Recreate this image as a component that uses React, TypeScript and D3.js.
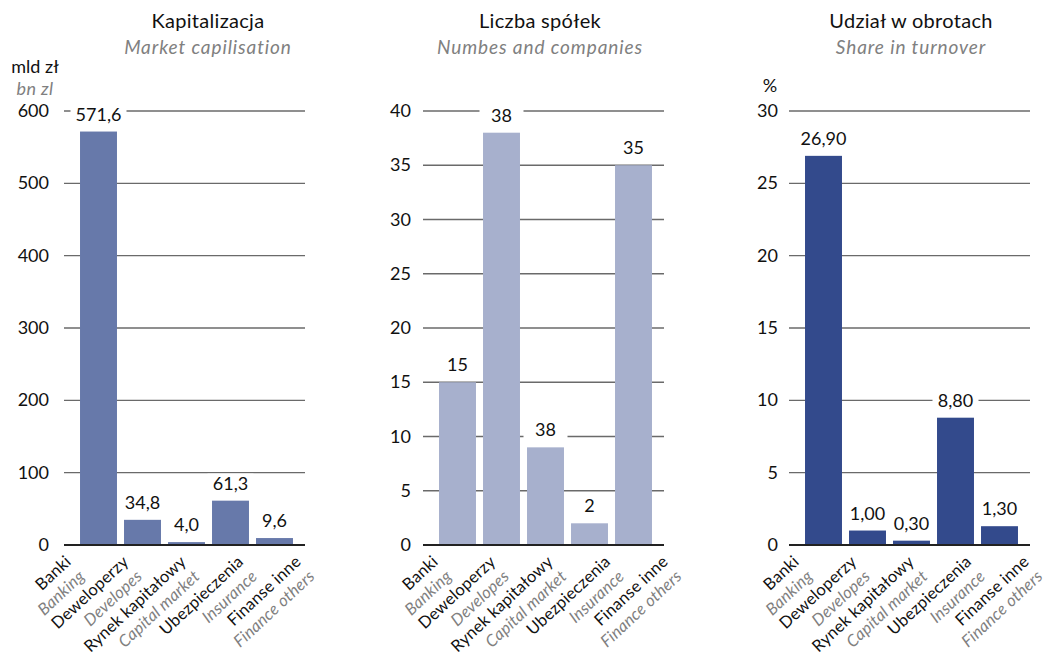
import React from "react";
import * as d3 from "d3";

const categoriesPl = ["Banki", "Deweloperzy", "Rynek kapitałowy", "Ubezpieczenia", "Finanse inne"];
const categoriesEn = ["Banking", "Developes", "Capital market", "Insurance", "Finance others"];

const capValues = [571.6, 34.8, 4.0, 61.3, 9.6];
const capLabels = ["571,6", "34,8", "4,0", "61,3", "9,6"];
const capTicks = [0, 100, 200, 300, 400, 500, 600];

const countValues = [15, 38, 9, 2, 35];
const countLabels = ["15", "38", "38", "2", "35"];
const countTicks = [0, 5, 10, 15, 20, 25, 30, 35, 40];

const shareValues = [26.9, 1.0, 0.3, 8.8, 1.3];
const shareLabels = ["26,90", "1,00", "0,30", "8,80", "1,30"];
const shareTicks = [0, 5, 10, 15, 20, 25, 30];

const FONT = "Lato, 'Open Sans', sans-serif";
const GRAY = "#808080";

type PanelProps = {
  gx: number;
  title: string;
  subtitle: string;
  titleX: number;
  unit?: string;
  unitEn?: string;
  unitX?: number;
  unitY?: number;
  values: number[];
  labels: string[];
  ticks: number[];
  max: number;
  color: string;
  tickX: number;
  labelShift: number;
};

function Panel(p: PanelProps) {
  const width = 241;
  const y = d3.scaleLinear().domain([0, p.max]).range([545, 111]);
  const x = d3
    .scaleBand<string>()
    .domain(categoriesPl)
    .range([p.gx + 12.5, p.gx + 232.5])
    .paddingInner(0.16)
    .paddingOuter(0.08);
  const lx = d3
    .scalePoint<string>()
    .domain(categoriesPl)
    .range([p.gx + p.labelShift, p.gx + p.labelShift + 230]);
  return (
    <g>
      <text x={p.titleX} y={28} textAnchor="middle" fontSize={20} letterSpacing={0.3} fill="#111">
        {p.title}
      </text>
      <text x={p.titleX} y={54} textAnchor="middle" fontSize={19} letterSpacing={0.9} fontStyle="italic" fill={GRAY}>
        {p.subtitle}
      </text>
      {p.unit && (
        <text x={p.unitX} y={p.unitY} textAnchor="middle" fontSize={18} fill="#111">
          {p.unit}
        </text>
      )}
      {p.unitEn && (
        <text x={p.unitX} y={95} textAnchor="middle" fontSize={18} letterSpacing={0.4} fontStyle="italic" fill={GRAY}>
          {p.unitEn}
        </text>
      )}
      {p.ticks.map((t) => (
        <g key={t}>
          {t !== 0 && (
            <line x1={p.gx} x2={p.gx + width} y1={y(t)} y2={y(t)} stroke="#6a6a6a" strokeWidth={1.3} />
          )}
          <text x={p.tickX} y={y(t) + 6} textAnchor="end" fontSize={18} fill="#111">
            {t}
          </text>
        </g>
      ))}
      {p.values.map((v, i) => {
        const c = categoriesPl[i];
        const bx = x(c)!;
        const bw = x.bandwidth();
        const cx = bx + bw / 2;
        const by = y(v);
        const lab = p.labels[i];
        const tw = Math.max(44, lab.length * 10 + 6);
        const base = by - 11;
        return (
          <g key={c}>
            <rect x={bx} y={by} width={bw} height={545 - by} fill={p.color} />
            <rect x={cx - tw / 2} y={base - 16} width={tw} height={21} fill="#fff" />
            <text x={cx} y={base} textAnchor="middle" fontSize={18} fill="#111">
              {lab}
            </text>
          </g>
        );
      })}
      <line x1={p.gx} x2={p.gx + width} y1={545} y2={545} stroke="#222" strokeWidth={2} />
      {categoriesPl.map((c, i) => {
        const ex = lx(c)!;
        return (
          <g key={c} transform={`translate(${ex},${563}) rotate(-43)`}>
            <text x={0} y={0} textAnchor="end" fontSize={16.5} letterSpacing={0.2} fill="#111">
              {c}
            </text>
            <text x={0} y={20} textAnchor="end" fontSize={16.5} letterSpacing={0.2} fontStyle="italic" fill={GRAY}>
              {categoriesEn[i]}
            </text>
          </g>
        );
      })}
    </g>
  );
}

export default function App() {
  return (
    <svg
      width={1051}
      height={656}
      style={{ position: "absolute", left: 0, top: 0, background: "#fff" }}
      fontFamily={FONT}
    >
      <rect width={1051} height={656} fill="#fff" />
      <Panel
        gx={64}
        title="Kapitalizacja"
        subtitle="Market capilisation"
        titleX={208}
        unit="mld zł"
        unitEn="bn zl"
        unitX={35}
        unitY={73}
        values={capValues}
        labels={capLabels}
        ticks={capTicks}
        max={600}
        color="#6779aa"
        tickX={49}
        labelShift={8}
      />
      <Panel
        gx={423}
        title="Liczba spółek"
        subtitle="Numbes and companies"
        titleX={540}
        values={countValues}
        labels={countLabels}
        ticks={countTicks}
        max={40}
        color="#a7b0cd"
        tickX={411}
        labelShift={16}
      />
      <Panel
        gx={789}
        title="Udział w obrotach"
        subtitle="Share in turnover"
        titleX={911}
        unit="%"
        unitX={770}
        unitY={92}
        values={shareValues}
        labels={shareLabels}
        ticks={shareTicks}
        max={30}
        color="#334a8c"
        tickX={778}
        labelShift={11}
      />
    </svg>
  );
}
